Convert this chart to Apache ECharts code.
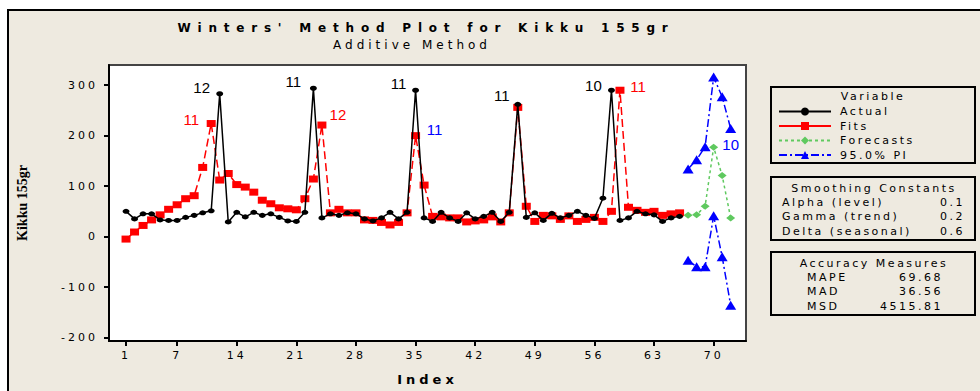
<!DOCTYPE html>
<html>
<head>
<meta charset="utf-8">
<script src="https://cdn.jsdelivr.net/npm/echarts@6/dist/echarts.min.js"></script>
<style>
  html, body { margin: 0; padding: 0; background: #fff; }
  #chart { width: 980px; height: 391px; }
  /* Minitab-style letter spaced text, picked by a marker family name */
  text[style*="spTitle"] { letter-spacing: 6.8px; }
  text[style*="spSub"] { letter-spacing: 4px; }
  text[style*="spAxis"] { letter-spacing: 3px; }
  text[style*="spName"] { letter-spacing: 4px; }
  text[style*="spBox"] { letter-spacing: 2.5px; }
</style>
</head>
<body>
<div id="chart"></div>
<script>
// values
const actual = [50, 35, 45, 45, 33, 32, 32, 38, 42, 47, 51, 283, 29, 48, 39, 48, 42, 45, 38, 31,
  30, 48, 294, 37, 45, 42, 47, 45, 35, 31, 37, 48, 35, 48, 290, 37, 30, 48, 37, 30,
  47, 35, 40, 48, 30, 48, 262, 38, 47, 32, 46, 37, 42, 50, 42, 36, 76, 290, 32, 37,
  50, 45, 43, 30, 37, 40];
const fits = [-5, 9, 22, 33, 43, 54, 63, 75, 81, 137, 224, 112, 125, 103, 98, 88, 72, 65, 57, 55,
  53, 75, 114, 221, 47, 54, 47, 47, 33, 32, 28, 23, 28, 47, 200, 102, 40, 39, 37, 37,
  29, 31, 33, 39, 29, 47, 256, 60, 30, 42, 41, 34, 41, 30, 34, 38, 30, 50, 290, 58,
  52, 48, 50, 42, 45, 47];
const forecastStart = 67;
const forecasts = [42, 43, 60, 177, 121, 37];
const upperPI = [134, 152, 178, 316, 277, 214];
const lowerPI = [-47, -60, -60, 41, -40, -136];

const xTicks = [1, 7, 14, 21, 28, 35, 42, 49, 56, 63, 70];
const yTicks = [-200, -100, 0, 100, 200, 300];

// point tags drawn next to some points
const actualTags = { 12: '12', 23: '11', 35: '11', 47: '11', 58: '10' };
const fitTags = { 11: '11', 24: '12', 35: '11', 59: '11' };
const forecastTags = { 70: '10' };

const smoothing = [['Alpha (level)', '0.1'], ['Gamma (trend)', '0.2'], ['Delta (seasonal)', '0.6']];
const accuracy = [['MAPE', '69.68'], ['MAD', '36.56'], ['MSD', '4515.81']];

// label placement (style only)
const tagOffsets = {
  Actual: { 12: [-18, -6], 23: [-20, -7], 35: [-17, -7], 47: [-16, -9], 58: [-18, -5] },
  Fits: { 11: [-20, -4], 24: [16, -11], 35: [19, -6], 59: [18, -4] },
  Forecasts: { 70: [17, -3] }
};
const tagColors = { Actual: '#000', Fits: '#ff0000', Forecasts: '#0000ff' };
const tagColorOverride = { 'Fits-35': '#0000ff' };

function points(name, values, start, tags) {
  return values.map((v, i) => {
    const x = start + i;
    const item = { value: [x, v] };
    if (tags && tags[x]) {
      item.label = {
        show: true,
        formatter: tags[x],
        position: 'inside',
        offset: tagOffsets[name][x],
        color: tagColorOverride[name + '-' + x] || tagColors[name],
        fontSize: 15,
        fontFamily: 'Liberation Sans'
      };
    }
    return item;
  });
}

const chart = echarts.init(document.getElementById('chart'), null, { renderer: 'svg' });

const boxFont = 'spBox, DejaVu Sans';
const boxText = (text, x, y, align) => ({
  type: 'text', x, y, z: 10,
  style: { text, fill: '#000', font: '11px ' + boxFont, textAlign: align || 'left', textVerticalAlign: 'middle' }
});

const graphics = [
  { type: 'rect', shape: { x: 8, y: 10, width: 1000, height: 400 }, z: -100,
    style: { fill: '#eeeae0', stroke: '#000', lineWidth: 2 } },
  { type: 'text', x: 426, y: 28, z: 10,
    style: { text: "Winters' Method Plot for Kikku 155gr", fill: '#000', font: 'bold 12px spTitle, DejaVu Sans', textAlign: 'center', textVerticalAlign: 'middle' } },
  { type: 'text', x: 412, y: 45, z: 10,
    style: { text: 'Additive Method', fill: '#000', font: '12px spSub, DejaVu Sans', textAlign: 'center', textVerticalAlign: 'middle' } },
  { type: 'rect', shape: { x: 771, y: 87, width: 204, height: 76 }, z: 5,
    style: { fill: 'none', stroke: '#000', lineWidth: 2 } },
  boxText('Variable', 873, 96, 'center'),
  { type: 'rect', shape: { x: 771, y: 177, width: 204, height: 63 }, z: 5,
    style: { fill: 'none', stroke: '#000', lineWidth: 2 } },
  boxText('Smoothing Constants', 874, 188, 'center'),
  { type: 'rect', shape: { x: 771, y: 252, width: 204, height: 63 }, z: 5,
    style: { fill: 'none', stroke: '#000', lineWidth: 2 } },
  boxText('Accuracy Measures', 874, 263, 'center')
];
smoothing.forEach((row, i) => {
  graphics.push(boxText(row[0], 782, 202 + i * 14.6));
  graphics.push(boxText(row[1], 965, 202 + i * 14.6, 'right'));
});
accuracy.forEach((row, i) => {
  graphics.push(boxText(row[0], 807, 277 + i * 14.8));
  graphics.push(boxText(row[1], 943, 277 + i * 14.8, 'right'));
});

chart.setOption({
  backgroundColor: '#fff',
  animation: false,
  grid: {
    left: 109, top: 65, right: 234, bottom: 47,
    show: true, backgroundColor: '#fff', borderColor: '#444', borderWidth: 2
  },
  legend: {
    orient: 'vertical',
    left: 778, top: 106,
    padding: 0,
    itemWidth: 52, itemHeight: 10, itemGap: 3.5,
    textStyle: { fontSize: 11, lineHeight: 11, color: '#000', fontFamily: 'spBox, DejaVu Sans', padding: [0, 0, 0, 4] },
    data: [
      { name: 'Actual' },
      { name: 'Fits', lineStyle: { type: 'solid' } },
      { name: 'Forecasts' },
      { name: '95.0% PI' }
    ]
  },
  xAxis: {
    type: 'value', min: -1, max: 73.8,
    axisLine: { onZero: false, lineStyle: { color: '#000', width: 2 } },
    axisTick: { customValues: xTicks, length: 5, lineStyle: { color: '#000', width: 2 } },
    axisLabel: { customValues: xTicks, margin: 9, color: '#000', fontSize: 11, fontFamily: 'spAxis, DejaVu Sans' },
    splitLine: { show: false },
    name: 'Index', nameLocation: 'middle', nameGap: 32,
    nameTextStyle: { color: '#000', fontSize: 13, fontWeight: 'bold', fontFamily: 'spName, DejaVu Sans' }
  },
  yAxis: {
    type: 'value', min: -207, max: 340,
    axisLine: { show: true, onZero: false, lineStyle: { color: '#000', width: 2 } },
    axisTick: { show: true, customValues: yTicks, length: 5, lineStyle: { color: '#000', width: 2 } },
    axisLabel: { customValues: yTicks, margin: 11, color: '#000', fontSize: 11, fontFamily: 'spAxis, DejaVu Sans' },
    splitLine: { show: false },
    name: 'Kikku 155gr', nameLocation: 'middle', nameRotate: 90, nameGap: 80,
    nameTextStyle: { color: '#000', fontSize: 14, fontWeight: 'bold', fontFamily: 'Liberation Serif' }
  },
  graphic: graphics,
  series: [
    {
      name: 'Actual', type: 'line',
      data: points('Actual', actual, 1, actualTags),
      symbol: 'circle', symbolSize: [7, 5],
      itemStyle: { color: '#000' },
      lineStyle: { color: '#000', width: 1.5 },
      z: 3
    },
    {
      name: 'Fits', type: 'line',
      data: points('Fits', fits, 1, fitTags),
      symbol: 'rect', symbolSize: [9, 7],
      itemStyle: { color: '#ff0000' },
      lineStyle: { color: '#ff0000', width: 1.5, type: [8, 4] },
      z: 2
    },
    {
      name: 'Forecasts', type: 'line',
      data: points('Forecasts', forecasts, forecastStart, forecastTags),
      symbol: 'diamond', symbolSize: [9, 7],
      itemStyle: { color: '#5fc95f' },
      lineStyle: { color: '#5fc95f', width: 1.5, type: [3, 3] },
      z: 2
    },
    {
      name: '95.0% PI', type: 'line',
      data: points('PI', upperPI, forecastStart, null),
      symbol: 'triangle', symbolSize: [11, 9],
      itemStyle: { color: '#0000ff' },
      lineStyle: { color: '#0000ff', width: 1.5, type: [8, 3, 2, 3] },
      z: 2
    },
    {
      name: '95.0% PI', type: 'line',
      data: points('PI', lowerPI, forecastStart, null),
      symbol: 'triangle', symbolSize: [11, 9],
      itemStyle: { color: '#0000ff' },
      lineStyle: { color: '#0000ff', width: 1.5, type: [8, 3, 2, 3] },
      z: 2
    }
  ]
});
</script>
</body>
</html>
